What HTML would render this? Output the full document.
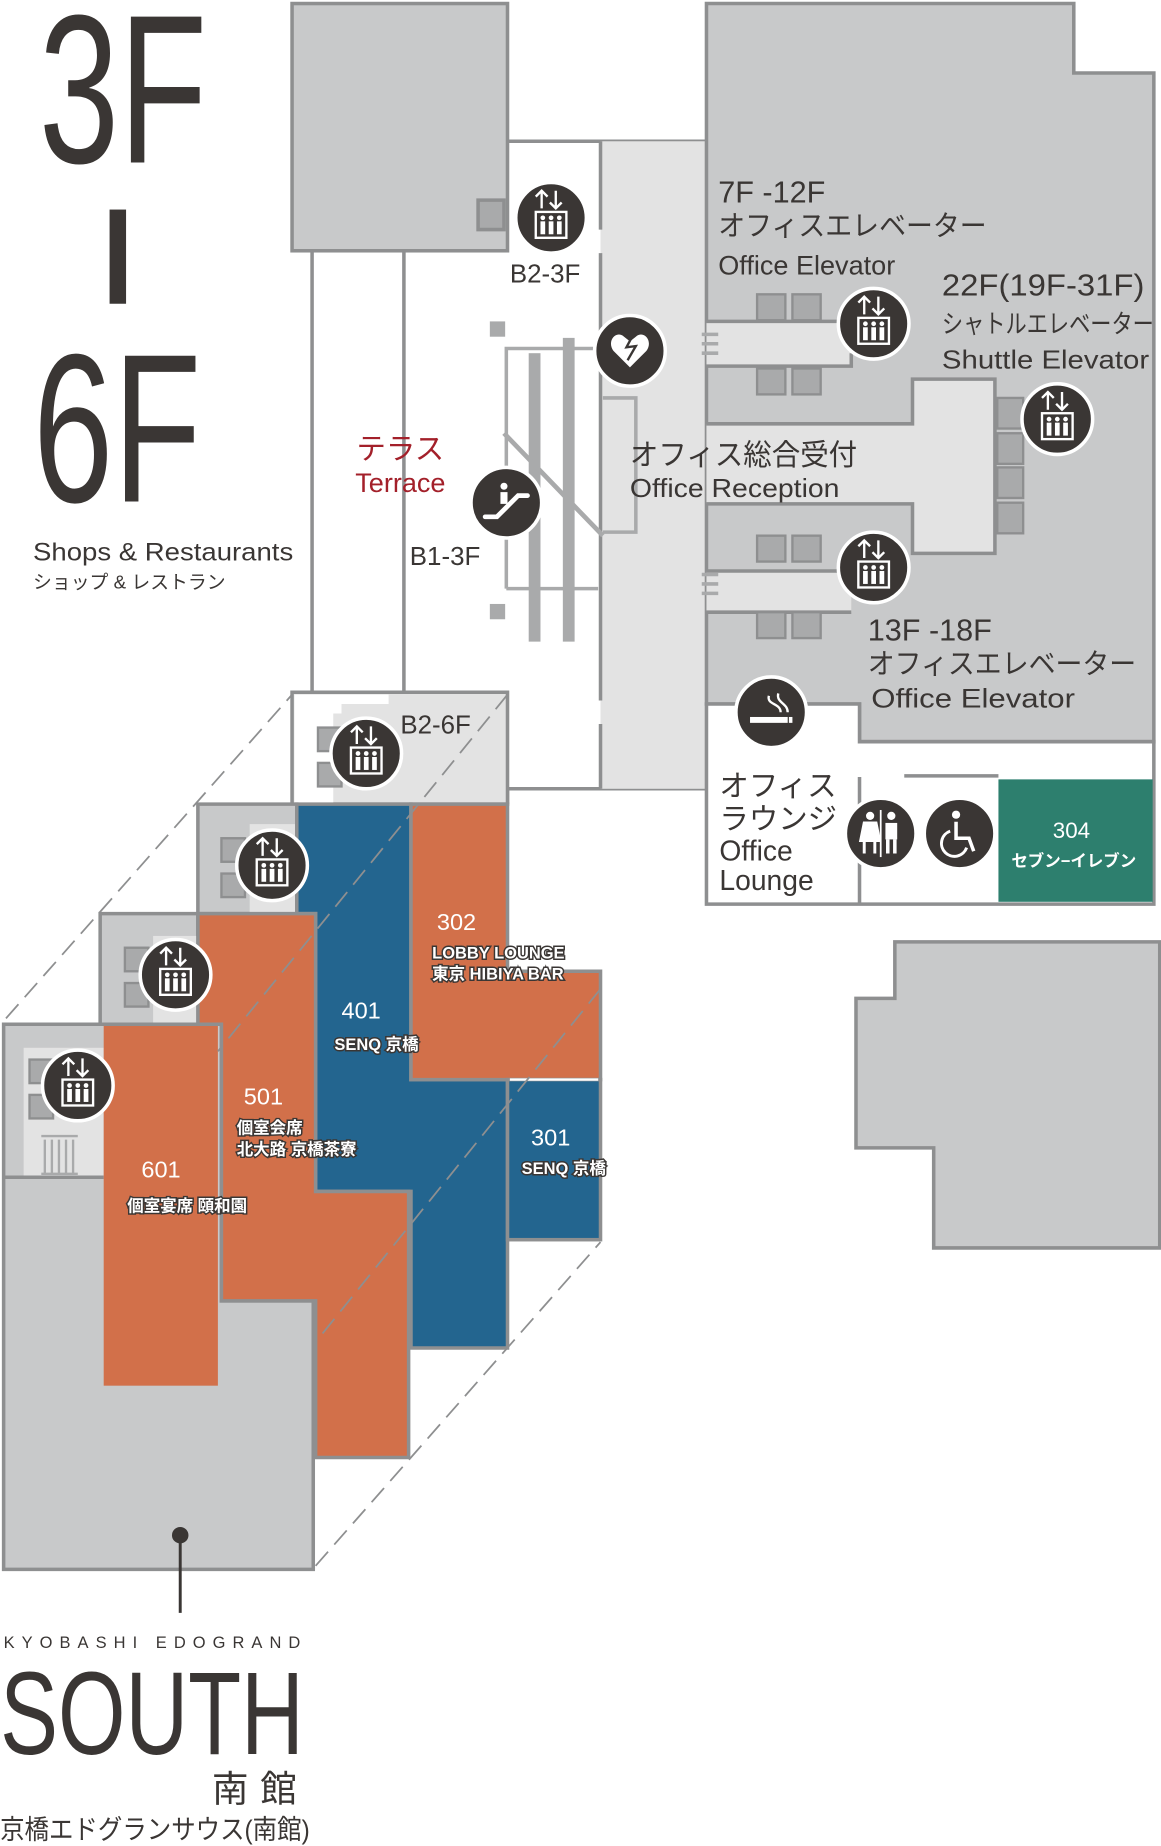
<!DOCTYPE html>
<html><head><meta charset="utf-8"><style>
html,body{margin:0;padding:0;background:#fff}
svg{display:block}
text{font-family:"Liberation Sans","Noto Sans CJK JP",sans-serif;fill:#3a3634}
</style></head><body>
<svg width="1161" height="1846" viewBox="0 0 986 1568" xmlns="http://www.w3.org/2000/svg">
<defs>
<g id="elv">
<circle r="30" fill="#3a3634" stroke="#fff" stroke-width="3"/>
<path d="M-8,-8 V-23 M-13,-18 L-8,-23 L-3,-18 M4,-23 V-8 M-1,-13 L4,-8 L9,-13" stroke="#fff" stroke-width="2" fill="none"/>
<rect x="-13" y="-5" width="26" height="22" fill="none" stroke="#fff" stroke-width="2"/>
<g fill="#fff"><circle cx="-7" cy="0" r="2"/><circle cx="0" cy="0" r="2"/><circle cx="7" cy="0" r="2"/><rect x="-9" y="3" width="4" height="11"/><rect x="-2" y="3" width="4" height="11"/><rect x="5" y="3" width="4" height="11"/></g>
</g>
</defs>

<rect x="248" y="3" width="183" height="210" fill="#c8c9ca" stroke="#8e8f90" stroke-width="3"/>
<path d="M406,170 H428 V195 H406 Z" fill="#a9aaab" stroke="#8e8f90" stroke-width="3"/>
<line x1="265" y1="213" x2="265" y2="590" stroke="#8e8f90" stroke-width="3"/>
<line x1="343" y1="213" x2="343" y2="590" stroke="#8e8f90" stroke-width="3"/>
<line x1="431" y1="120" x2="600" y2="120" stroke="#8e8f90" stroke-width="3"/>
<line x1="431" y1="670" x2="600" y2="670" stroke="#8e8f90" stroke-width="3"/>
<line x1="431" y1="670" x2="431" y2="683" stroke="#8e8f90" stroke-width="3"/>

<rect x="510" y="120" width="90" height="550" fill="#e3e3e3"/>
<line x1="510" y1="120" x2="510" y2="195" stroke="#8e8f90" stroke-width="3"/>
<line x1="510" y1="215" x2="510" y2="595" stroke="#8e8f90" stroke-width="3"/>
<line x1="510" y1="615" x2="510" y2="670" stroke="#8e8f90" stroke-width="3"/>

<rect x="416" y="273" width="13" height="13" fill="#a9aaab"/>
<rect x="416" y="513" width="13" height="13" fill="#a9aaab"/>
<path d="M430,500 V296 H510" fill="none" stroke="#a9aaab" stroke-width="3"/>
<path d="M430,500 H508" fill="none" stroke="#a9aaab" stroke-width="3"/>
<rect x="449" y="300" width="10" height="245" fill="#a9aaab"/>
<rect x="478" y="287" width="10" height="258" fill="#a9aaab"/>
<line x1="428" y1="368" x2="512" y2="455" stroke="#a9aaab" stroke-width="4"/>
<path d="M512,338 H540 V452 H512" fill="none" stroke="#a9aaab" stroke-width="3"/>

<path d="M600,3 H912 V62 H980 V630 H730 V598 H600 Z" fill="#c8c9ca" stroke="#8e8f90" stroke-width="3"/>
<rect x="600" y="273" width="123" height="38" fill="#e3e3e3"/>
<path d="M600,273 H723 M600,311 H723 V300" stroke="#8e8f90" stroke-width="3" fill="none"/>
<rect x="600" y="360" width="175" height="68" fill="#e3e3e3"/>
<path d="M600,360 H775 V322 H845 V470 H775 V428 H600" fill="#e3e3e3" stroke="#8e8f90" stroke-width="3"/>
<rect x="600" y="485" width="123" height="35" fill="#e3e3e3"/>
<path d="M600,485 H723 M600,520 H723" stroke="#8e8f90" stroke-width="3" fill="none"/>
<g fill="#a9aaab" stroke="#8e8f90" stroke-width="2">
<rect x="643" y="250" width="24" height="22"/><rect x="673" y="250" width="24" height="22"/>
<rect x="643" y="313" width="24" height="22"/><rect x="673" y="313" width="24" height="22"/>
<rect x="643" y="455" width="24" height="22"/><rect x="673" y="455" width="24" height="22"/>
<rect x="643" y="520" width="24" height="22"/><rect x="673" y="520" width="24" height="22"/>
<rect x="847" y="338" width="22" height="26"/><rect x="847" y="368" width="22" height="26"/>
<rect x="847" y="397" width="22" height="26"/><rect x="847" y="427" width="22" height="26"/>
</g>
<g stroke="#a9aaab" stroke-width="3"><line x1="596" y1="284" x2="610" y2="284"/><line x1="596" y1="292" x2="610" y2="292"/><line x1="596" y1="300" x2="610" y2="300"/>
<line x1="596" y1="488" x2="610" y2="488"/><line x1="596" y1="496" x2="610" y2="496"/><line x1="596" y1="504" x2="610" y2="504"/></g>

<rect x="600" y="598" width="130" height="170" fill="#fff"/>
<rect x="730" y="631" width="250" height="137" fill="#fff"/>
<path d="M600,598 H730 V630 H980 V768 H600 Z" fill="none" stroke="#8e8f90" stroke-width="3"/>
<line x1="730" y1="660" x2="730" y2="768" stroke="#8e8f90" stroke-width="3"/>
<line x1="768" y1="659" x2="848" y2="659" stroke="#8e8f90" stroke-width="3"/>
<rect x="848" y="662" width="131" height="104" fill="#2d7f6e"/>
<text x="910" y="712" font-size="19" text-anchor="middle" style="fill:#fff">304</text>
<text x="912" y="736" font-size="14" text-anchor="middle" font-weight="bold" style="fill:#fff">セブン−イレブン</text>

<path d="M760,800 H985 V1060 H793 V975 H727 V848 H760 Z" fill="#c8c9ca" stroke="#8e8f90" stroke-width="3"/>

<path d="M248,588 H431 V683 H248 Z" fill="#e3e3e3" stroke="#8e8f90" stroke-width="3"/>
<path d="M250,590 H330 V598 H290 V606 H250 Z" fill="#fff"/>
<rect x="250" y="606" width="33" height="76" fill="#fff"/>
<g fill="#a9aaab" stroke="#8e8f90" stroke-width="2"><rect x="270" y="618" width="20" height="20"/><rect x="270" y="648" width="20" height="20"/></g>

<path d="M168,683 H252 V776 H168 Z" fill="#c8c9ca" stroke="#8e8f90" stroke-width="3"/>
<rect x="212" y="700" width="40" height="76" fill="#e3e3e3"/>
<g fill="#a9aaab" stroke="#8e8f90" stroke-width="2"><rect x="188" y="712" width="20" height="20"/><rect x="188" y="742" width="20" height="20"/></g>

<path d="M85,776 H168 V870 H85 Z" fill="#c8c9ca" stroke="#8e8f90" stroke-width="3"/>
<rect x="130" y="795" width="38" height="75" fill="#e3e3e3"/>
<g fill="#a9aaab" stroke="#8e8f90" stroke-width="2"><rect x="106" y="805" width="20" height="20"/><rect x="106" y="835" width="20" height="20"/></g>

<path d="M3,870 H188 V1105 H266 V1333 H3 Z" fill="#c8c9ca" stroke="#8e8f90" stroke-width="3"/>
<rect x="20" y="890" width="68" height="110" fill="#e3e3e3"/>
<path d="M3,1000 H88" stroke="#8e8f90" stroke-width="3"/>
<g fill="#a9aaab" stroke="#8e8f90" stroke-width="2"><rect x="25" y="900" width="20" height="20"/><rect x="25" y="930" width="20" height="20"/></g>
<g stroke="#a9aaab" stroke-width="2"><line x1="35" y1="965" x2="66" y2="965"/><line x1="35" y1="997" x2="66" y2="997"/>
<line x1="38" y1="968" x2="38" y2="997"/><line x1="44" y1="968" x2="44" y2="997"/><line x1="50" y1="968" x2="50" y2="997"/><line x1="56" y1="968" x2="56" y2="997"/><line x1="62" y1="968" x2="62" y2="997"/></g>

<path d="M252,683 H349 V917 H431 V1145 H349 V1012 H268 V776 H252 Z" fill="#23658f" stroke="#8e8f90" stroke-width="3"/>
<path d="M349,683 H431 V825 H510 V917 H349 Z" fill="#d2704a" stroke="#8e8f90" stroke-width="3"/>
<rect x="431" y="917" width="79" height="136" fill="#23658f" stroke="#8e8f90" stroke-width="3"/>
<line x1="433" y1="917" x2="508" y2="917" stroke="#fff" stroke-width="2"/>
<path d="M168,776 H268 V1012 H347 V1238 H268 V1105 H188 V870 H168 Z" fill="#d2704a" stroke="#8e8f90" stroke-width="3"/>
<rect x="88" y="870" width="97" height="307" fill="#d2704a"/>
<line x1="88" y1="870" x2="188" y2="870" stroke="#8e8f90" stroke-width="3"/>

<g stroke="#8e8f90" stroke-width="1.5" stroke-dasharray="16,8" fill="none">
<line x1="5" y1="865" x2="248" y2="590"/>
<line x1="268" y1="1330" x2="510" y2="1055"/>
<line x1="431" y1="590" x2="185" y2="893"/>
<line x1="510" y1="840" x2="268" y2="1140"/>
</g>

<text x="371" y="790" font-size="20" style="fill:#fff">302</text>
<text x="367" y="814" font-size="14" font-weight="bold" style="fill:#fff;stroke:#3a3634;stroke-width:2.5;paint-order:stroke">LOBBY LOUNGE</text>
<text x="367" y="832" font-size="14" font-weight="bold" style="fill:#fff;stroke:#3a3634;stroke-width:2.5;paint-order:stroke">東京 HIBIYA BAR</text>
<text x="290" y="865" font-size="20" style="fill:#fff">401</text>
<text x="284" y="892" font-size="14" font-weight="bold" style="fill:#fff;stroke:#3a3634;stroke-width:2.5;paint-order:stroke">SENQ 京橋</text>
<text x="451" y="973" font-size="20" style="fill:#fff">301</text>
<text x="443" y="997" font-size="14" font-weight="bold" style="fill:#fff;stroke:#3a3634;stroke-width:2.5;paint-order:stroke">SENQ 京橋</text>
<text x="207" y="938" font-size="20" style="fill:#fff">501</text>
<text x="201" y="963" font-size="14" font-weight="bold" style="fill:#fff;stroke:#3a3634;stroke-width:2.5;paint-order:stroke">個室会席</text>
<text x="201" y="981" font-size="14" font-weight="bold" style="fill:#fff;stroke:#3a3634;stroke-width:2.5;paint-order:stroke">北大路 京橋茶寮</text>
<text x="120" y="1000" font-size="20" style="fill:#fff">601</text>
<text x="108" y="1029" font-size="14" font-weight="bold" style="fill:#fff;stroke:#3a3634;stroke-width:2.5;paint-order:stroke">個室宴席 頤和園</text>

<use href="#elv" x="468" y="185"/>
<use href="#elv" x="742" y="275"/>
<use href="#elv" x="898" y="356"/>
<use href="#elv" x="742" y="482"/>
<use href="#elv" x="311" y="640"/>
<use href="#elv" x="231" y="735"/>
<use href="#elv" x="149" y="828"/>
<use href="#elv" x="66" y="922"/>
<g transform="translate(535,298)"><circle r="30" fill="#3a3634" stroke="#fff" stroke-width="3"/><path d="M0,14 L-14,0 C-20,-8 -12,-18 -5,-12 L0,-8 L5,-12 C12,-18 20,-8 14,0 Z" fill="#fff"/><path d="M4,-16 L-3,-3 L5,-4 L-2,8" stroke="#3a3634" stroke-width="2" fill="none"/></g>
<g transform="translate(430,427)"><circle r="30" fill="#3a3634" stroke="#fff" stroke-width="3"/><circle cx="-2" cy="-14" r="3" fill="#fff"/><rect x="-5" y="-9" width="6" height="10" fill="#fff"/><path d="M-18,12 L-8,12 L10,-6 L18,-6" stroke="#fff" stroke-width="4" fill="none" stroke-linecap="round"/></g>
<g transform="translate(655,605)"><circle r="30" fill="#3a3634" stroke="#fff" stroke-width="3"/><rect x="-18" y="4" width="32" height="5" fill="#fff"/><rect x="15" y="4" width="3" height="5" fill="#fff"/><path d="M8,0 C8,-8 -4,-6 -2,-14 M14,0 C14,-8 4,-8 6,-16" stroke="#fff" stroke-width="2" fill="none"/></g>
<g transform="translate(748,708)"><circle r="30" fill="#3a3634" stroke="#fff" stroke-width="3"/><circle cx="-9" cy="-15" r="3.5" fill="#fff"/><path d="M-14,-9 H-4 L-1,6 H-17 Z M-14,6 V17 M-5,6 V17" fill="#fff" stroke="#fff" stroke-width="2.5"/><line x1="0" y1="-20" x2="0" y2="20" stroke="#fff" stroke-width="1.5"/><circle cx="9" cy="-15" r="3.5" fill="#fff"/><rect x="4" y="-9" width="10" height="14" fill="#fff"/><path d="M6,5 V17 M12,5 V17" stroke="#fff" stroke-width="3"/></g>
<g transform="translate(815,708)"><circle r="30" fill="#3a3634" stroke="#fff" stroke-width="3"/><circle cx="-3" cy="-16" r="3.5" fill="#fff"/><path d="M-3,-10 V4 H8 L12,15" stroke="#fff" stroke-width="3" fill="none"/><path d="M-8,-2 A11,11 0 1 0 6,12" stroke="#fff" stroke-width="2.5" fill="none"/></g>
<circle cx="153" cy="1304" r="7" fill="#3a3634"/>
<line x1="153" y1="1304" x2="153" y2="1370" stroke="#3a3634" stroke-width="2.5"/>

<text x="433" y="240" font-size="22">B2-3F</text>
<text x="348" y="480" font-size="22">B1-3F</text>
<text x="340" y="623" font-size="22">B2-6F</text>
<text x="340" y="390" font-size="25" text-anchor="middle" style="fill:#a3202a">テラス</text>
<text x="340" y="418" font-size="23" text-anchor="middle" style="fill:#a3202a">Terrace</text>
<text x="610" y="172" font-size="26">7F -12F</text>
<text x="610" y="200" font-size="24" textLength="228" lengthAdjust="spacingAndGlyphs">オフィスエレベーター</text>
<text x="610" y="233" font-size="23">Office Elevator</text>
<text x="800" y="251" font-size="26" textLength="172" lengthAdjust="spacingAndGlyphs">22F(19F-31F)</text>
<text x="800" y="283" font-size="22" textLength="180" lengthAdjust="spacingAndGlyphs">シャトルエレベーター</text>
<text x="800" y="313" font-size="22" textLength="176" lengthAdjust="spacingAndGlyphs">Shuttle Elevator</text>
<text x="535" y="395" font-size="25" textLength="193" lengthAdjust="spacingAndGlyphs">オフィス総合受付</text>
<text x="535" y="422" font-size="22" textLength="178" lengthAdjust="spacingAndGlyphs">Office Reception</text>
<text x="737" y="544" font-size="26">13F -18F</text>
<text x="737" y="572" font-size="24" textLength="228" lengthAdjust="spacingAndGlyphs">オフィスエレベーター</text>
<text x="740" y="601" font-size="23" textLength="173" lengthAdjust="spacingAndGlyphs">Office Elevator</text>
<text x="611" y="676" font-size="25">オフィス</text>
<text x="611" y="704" font-size="25">ラウンジ</text>
<text x="611" y="731" font-size="24">Office</text>
<text x="611" y="756" font-size="24">Lounge</text>

<text x="28" y="476" font-size="21" textLength="221" lengthAdjust="spacingAndGlyphs">Shops &amp; Restaurants</text>
<text x="28" y="500" font-size="16">ショップ &amp; レストラン</text>

<text transform="translate(33,138) scale(0.68,1)" font-size="180">3F</text>
<rect x="93" y="178" width="14" height="80" fill="#3a3634"/>
<text transform="translate(28,426) scale(0.68,1)" font-size="180">6F</text>

<text x="3" y="1400" font-size="14" textLength="252" lengthAdjust="spacing">KYOBASHI EDOGRAND</text>
<text x="0" y="1490" font-size="100" textLength="258" lengthAdjust="spacingAndGlyphs">SOUTH</text>
<text x="180" y="1530" font-size="31" letter-spacing="10">南館</text>
<text x="0" y="1562" font-size="23" textLength="263" lengthAdjust="spacingAndGlyphs">京橋エドグランサウス(南館)</text>
</svg>
</body></html>
